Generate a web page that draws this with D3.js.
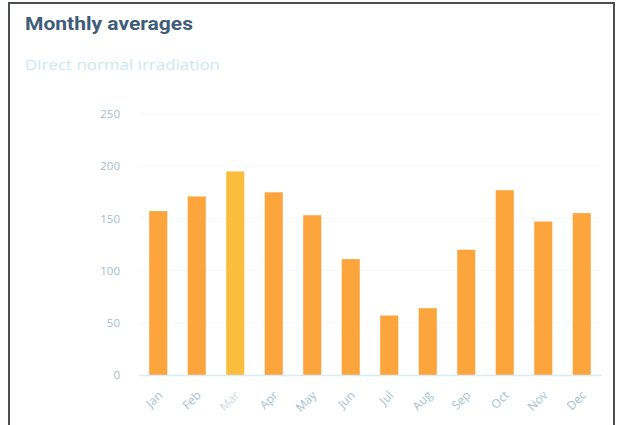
<!DOCTYPE html>
<html>
<head>
<meta charset="utf-8">
<script src="https://cdn.jsdelivr.net/npm/d3@7"></script>
<style>
  html, body { margin: 0; padding: 0; background: #ffffff; }
  svg { display: block; }
</style>
</head>
<body>
<svg id="chart" width="618" height="425"></svg>
<script>
// Monthly averages of direct normal irradiation
const months = ["Jan", "Feb", "Mar", "Apr", "May", "Jun", "Jul", "Aug", "Sep", "Oct", "Nov", "Dec"];
const dni = [157, 171, 195, 175, 153, 111, 57, 64, 120, 177, 147, 155];
const yTicks = [0, 50, 100, 150, 200, 250];
const highlighted = "Mar";

const svg = d3.select("#chart");

// card frame
svg.append("rect")
  .attr("x", 9).attr("y", 3)
  .attr("width", 605).attr("height", 440)
  .attr("fill", "#ffffff")
  .attr("stroke", "#4a4d52")
  .attr("stroke-width", 2);

svg.append("text")
  .attr("x", 25).attr("y", 30)
  .attr("font-family", "Roboto, sans-serif")
  .attr("font-weight", 700)
  .attr("font-size", 18)
  .attr("textLength", 168)
  .attr("lengthAdjust", "spacingAndGlyphs")
  .attr("fill", "#3f5d78")
  .text("Monthly averages");

svg.append("text")
  .attr("x", 25).attr("y", 70)
  .attr("font-family", "'Open Sans', sans-serif")
  .attr("font-size", 15)
  .attr("textLength", 195)
  .attr("lengthAdjust", "spacingAndGlyphs")
  .attr("fill", "#cce7f4")
  .text("Direct normal irradiation");

const x = d3.scaleBand()
  .domain(months)
  .range([139, 601])
  .paddingInner(0.53)
  .paddingOuter(0.265);

const y = d3.scaleLinear()
  .domain([0, 250])
  .range([375, 114]);

// faint horizontal grid
svg.append("g")
  .selectAll("line")
  .data(yTicks.filter(d => d > 0))
  .join("line")
  .attr("x1", 139).attr("x2", 601)
  .attr("y1", d => y(d)).attr("y2", d => y(d))
  .attr("stroke", "#f4f8fb")
  .attr("stroke-width", 1);

// y axis labels
const yAxis = d3.axisLeft(y).tickValues(yTicks).tickSize(0).tickPadding(0);
svg.append("g")
  .attr("transform", "translate(120,0)")
  .call(yAxis)
  .call(g => g.select(".domain").remove())
  .call(g => g.selectAll("text")
    .attr("font-family", "'Open Sans', sans-serif")
    .attr("font-size", 11.5)
    .attr("fill", "#a6bccb"));

// bars
svg.append("g")
  .selectAll("rect")
  .data(months.map((m, i) => ({ m, v: dni[i] })))
  .join("rect")
  .attr("x", d => x(d.m))
  .attr("width", x.bandwidth())
  .attr("y", d => y(d.v))
  .attr("height", d => y(0) - y(d.v))
  .attr("fill", d => d.m === highlighted ? "#fbbd3d" : "#fba53c");

// x axis
const xAxis = d3.axisBottom(x).tickSize(0).tickPadding(0);
svg.append("g")
  .attr("transform", "translate(0,375)")
  .call(xAxis)
  .call(g => g.select(".domain")
    .attr("stroke", "#d8ecf6")
    .attr("stroke-width", 1.5))
  .call(g => g.selectAll("text")
    .attr("font-family", "'Open Sans', sans-serif")
    .attr("font-size", 12)
    .attr("fill", d => d === highlighted ? "#cfdbe3" : "#a6bfcf")
    .attr("text-anchor", "end")
    .attr("dy", 0)
    .attr("transform", "translate(5,21) rotate(-45)"));
</script>
</body>
</html>
